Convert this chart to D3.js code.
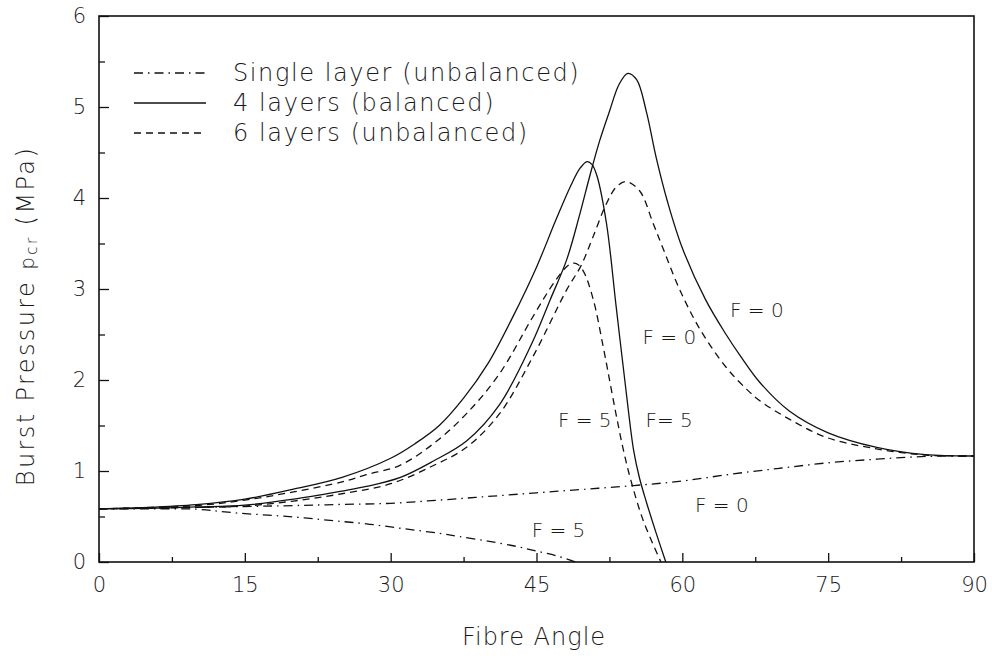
<!DOCTYPE html>
<html>
<head>
<meta charset="utf-8">
<script src="https://cdn.jsdelivr.net/npm/d3@7"></script>
<style>
  body { margin: 0; background: #fff; }
  text { font-family: "DejaVu Sans", "Liberation Sans", sans-serif; font-weight: 200; fill: #1a1a1a; }
  .curve { fill: none; stroke: #111; stroke-width: 1.3; }
  .dashdot { stroke-dasharray: 9,5,1.5,5; }
  .dashed { stroke-dasharray: 7,5; }
  .frame { fill: none; stroke: #111; stroke-width: 1.6; }
  .tick line { stroke: #111; stroke-width: 1.3; }
</style>
</head>
<body>
<div class="container"></div>
<script>
var width = 992,
    height = 658;

// ---------- DATA (fibre angle in degrees, burst pressure in MPa) ----------
var singleF0Angle = [0, 10, 20, 25, 30, 35, 40, 45, 50, 55, 60, 65, 70, 75, 80, 85, 90];
var singleF0P     = [0.585, 0.6, 0.62, 0.633, 0.645, 0.68, 0.72, 0.76, 0.8, 0.84, 0.89, 0.965, 1.03, 1.09, 1.13, 1.16, 1.165];

var singleF5Angle = [0, 5, 10, 14, 20, 25, 27.5, 30, 32.5, 35, 37, 40, 43, 45, 47, 49];
var singleF5P     = [0.585, 0.585, 0.58, 0.54, 0.495, 0.445, 0.42, 0.385, 0.35, 0.315, 0.28, 0.23, 0.17, 0.12, 0.07, 0];

var four0Angle = [0, 5, 10, 15, 20, 25, 27.5, 31, 34.4, 37.8, 41.2, 44.6, 46.4, 48.1, 49.4, 50.5, 51.5, 52.5, 53.5, 54.4, 55.3, 56.3, 57.3, 58.5, 60, 62.4, 64.5, 66, 68, 71, 75, 80, 85, 90];
var four0P     = [0.585, 0.59, 0.605, 0.625, 0.69, 0.78, 0.83, 0.93, 1.11, 1.33, 1.73, 2.42, 2.88, 3.32, 3.8, 4.25, 4.63, 4.95, 5.25, 5.37, 5.3, 4.95, 4.45, 3.95, 3.45, 2.88, 2.5, 2.26, 1.97, 1.66, 1.42, 1.26, 1.18, 1.165];

var four5Angle = [0, 5, 10, 15, 20, 25, 30, 32.5, 35, 37.5, 40, 42.5, 45, 47, 48.5, 49.5, 50.2, 50.7, 51.2, 52.2, 53.2, 54.2, 55, 55.6, 56.3, 57.3, 58.3];
var four5P     = [0.585, 0.6, 0.63, 0.69, 0.8, 0.93, 1.14, 1.3, 1.5, 1.8, 2.18, 2.68, 3.24, 3.76, 4.13, 4.33, 4.4, 4.37, 4.25, 3.72, 2.8, 1.89, 1.22, 0.92, 0.66, 0.32, 0];

var six0Angle = [0, 10, 15, 20, 25, 30, 34.4, 37.8, 41.2, 44.6, 48.1, 49.6, 50.8, 52.2, 53.2, 54.2, 55.6, 57, 58, 59.7, 61.8, 64.5, 66.6, 68, 71, 74.8, 79.6, 85, 90];
var six0P     = [0.585, 0.6, 0.615, 0.67, 0.75, 0.86, 1.06, 1.26, 1.63, 2.25, 2.99, 3.26, 3.57, 3.94, 4.12, 4.18, 4.08, 3.72, 3.45, 3.0, 2.56, 2.14, 1.9, 1.77, 1.57, 1.37, 1.25, 1.175, 1.165];

var six5Angle = [0, 10, 15, 20, 25, 27.5, 30.9, 34.4, 37.8, 41.2, 44.6, 47, 48.4, 49.1, 49.8, 50.8, 51.8, 52.6, 53.3, 54, 54.7, 56, 57.8];
var six5P     = [0.585, 0.62, 0.68, 0.77, 0.88, 0.96, 1.06, 1.3, 1.63, 2.07, 2.69, 3.1, 3.27, 3.28, 3.2, 2.9, 2.4, 1.95, 1.56, 1.2, 0.9, 0.45, 0];

var xMajorTicks = [0, 15, 30, 45, 60, 75, 90];
var xMinorTicks = [7.5, 22.5, 37.5, 52.5, 67.5, 82.5];
var yMajorTicks = [0, 1, 2, 3, 4, 5, 6];
var yMinorTicks = [0.5, 1.5, 2.5, 3.5, 4.5, 5.5];

var legendLabels = ["Single layer (unbalanced)", "4 layers (balanced)", "6 layers (unbalanced)"];
var legendStyles = ["dashdot", "solid", "dashed"];

// F labels: text, angle, pressure of the label's left/middle point
var fLabels = [
  { text: "F = 0", a: 64.9, p: 2.77 },
  { text: "F = 0", a: 55.9, p: 2.47 },
  { text: "F= 5",  a: 56.2, p: 1.56 },
  { text: "F = 5", a: 47.2, p: 1.56 },
  { text: "F = 0", a: 61.3, p: 0.63 },
  { text: "F = 5", a: 44.5, p: 0.35 }
];

var series = [
  { angle: singleF0Angle, p: singleF0P, style: "dashdot" },
  { angle: singleF5Angle, p: singleF5P, style: "dashdot" },
  { angle: four0Angle, p: four0P, style: "solid" },
  { angle: four5Angle, p: four5P, style: "solid" },
  { angle: six0Angle, p: six0P, style: "dashed" },
  { angle: six5Angle, p: six5P, style: "dashed" }
];

// ---------- SCALES ----------
var x = d3.scaleLinear().domain([0, 90]).range([99, 974]);
var y = d3.scaleLinear().domain([0, 6]).range([562, 16]);

var svg = d3.select(".container").append("svg")
    .attr("width", width)
    .attr("height", height);

// ---------- AXES ----------
var xAxis = svg.append("g")
    .attr("transform", "translate(0," + y(0) + ")")
    .call(d3.axisBottom(x).tickValues(xMajorTicks).tickSize(-9).tickPadding(15).tickFormat(d3.format("d")));
xAxis.append("g")
    .call(d3.axisBottom(x).tickValues(xMinorTicks).tickSize(-5).tickFormat(""));

var yAxis = svg.append("g")
    .attr("transform", "translate(" + x(0) + ",0)")
    .call(d3.axisLeft(y).tickValues(yMajorTicks).tickSize(-10).tickPadding(13).tickFormat(d3.format("d")));
yAxis.append("g")
    .call(d3.axisLeft(y).tickValues(yMinorTicks).tickSize(-6).tickFormat(""));

svg.selectAll(".domain").remove();
svg.selectAll(".tick text")
    .attr("font-size", 21)
    .style("font-family", "\"DejaVu Sans\", sans-serif")
    .attr("fill", "#1a1a1a");

svg.append("rect")
    .attr("class", "frame")
    .attr("x", x(0))
    .attr("y", y(6))
    .attr("width", x(90) - x(0))
    .attr("height", y(0) - y(6));

// ---------- CURVES ----------
var line = d3.line()
    .x(function(d) { return x(d[0]); })
    .y(function(d) { return y(d[1]); })
    .curve(d3.curveCatmullRom.alpha(0.5));

series.forEach(function(s) {
  var pts = s.angle.map(function(a, i) { return [a, s.p[i]]; });
  svg.append("path")
    .datum(pts)
    .attr("class", "curve " + s.style)
    .attr("d", line);
});

// ---------- F LABELS ----------
svg.selectAll(".flabel")
  .data(fLabels)
  .enter().append("text")
    .attr("class", "flabel")
    .attr("x", function(d) { return x(d.a); })
    .attr("y", function(d) { return y(d.p); })
    .attr("dy", "0.35em")
    .attr("font-size", 20)
    .text(function(d) { return d.text; });

// ---------- LEGEND ----------
var legend = svg.append("g");
legendLabels.forEach(function(lbl, i) {
  var ly = 73 + i * 30;
  legend.append("line")
    .attr("class", "curve " + legendStyles[i])
    .attr("x1", 134).attr("x2", 206)
    .attr("y1", ly).attr("y2", ly);
  legend.append("text")
    .attr("x", 233)
    .attr("y", ly)
    .attr("dy", "0.35em")
    .attr("font-size", 24)
    .attr("letter-spacing", 1.6)
    .text(lbl);
});

// ---------- AXIS TITLES ----------
svg.append("text")
    .attr("x", 534)
    .attr("y", 637)
    .attr("dy", "0.35em")
    .attr("text-anchor", "middle")
    .attr("font-size", 24)
    .attr("letter-spacing", 1)
    .text("Fibre Angle");

var yt = svg.append("text")
    .attr("transform", "translate(26,316) rotate(-90)")
    .attr("text-anchor", "middle")
    .attr("dy", "0.35em")
    .attr("font-size", 24)
    .attr("letter-spacing", 2.4);
yt.append("tspan").text("Burst Pressure ");
yt.append("tspan").attr("font-size", 20).text("p");
yt.append("tspan").attr("font-size", 15).attr("dy", 3).text("cr");
yt.append("tspan").attr("dy", -3).text(" (MPa)");
</script>
</body>
</html>
